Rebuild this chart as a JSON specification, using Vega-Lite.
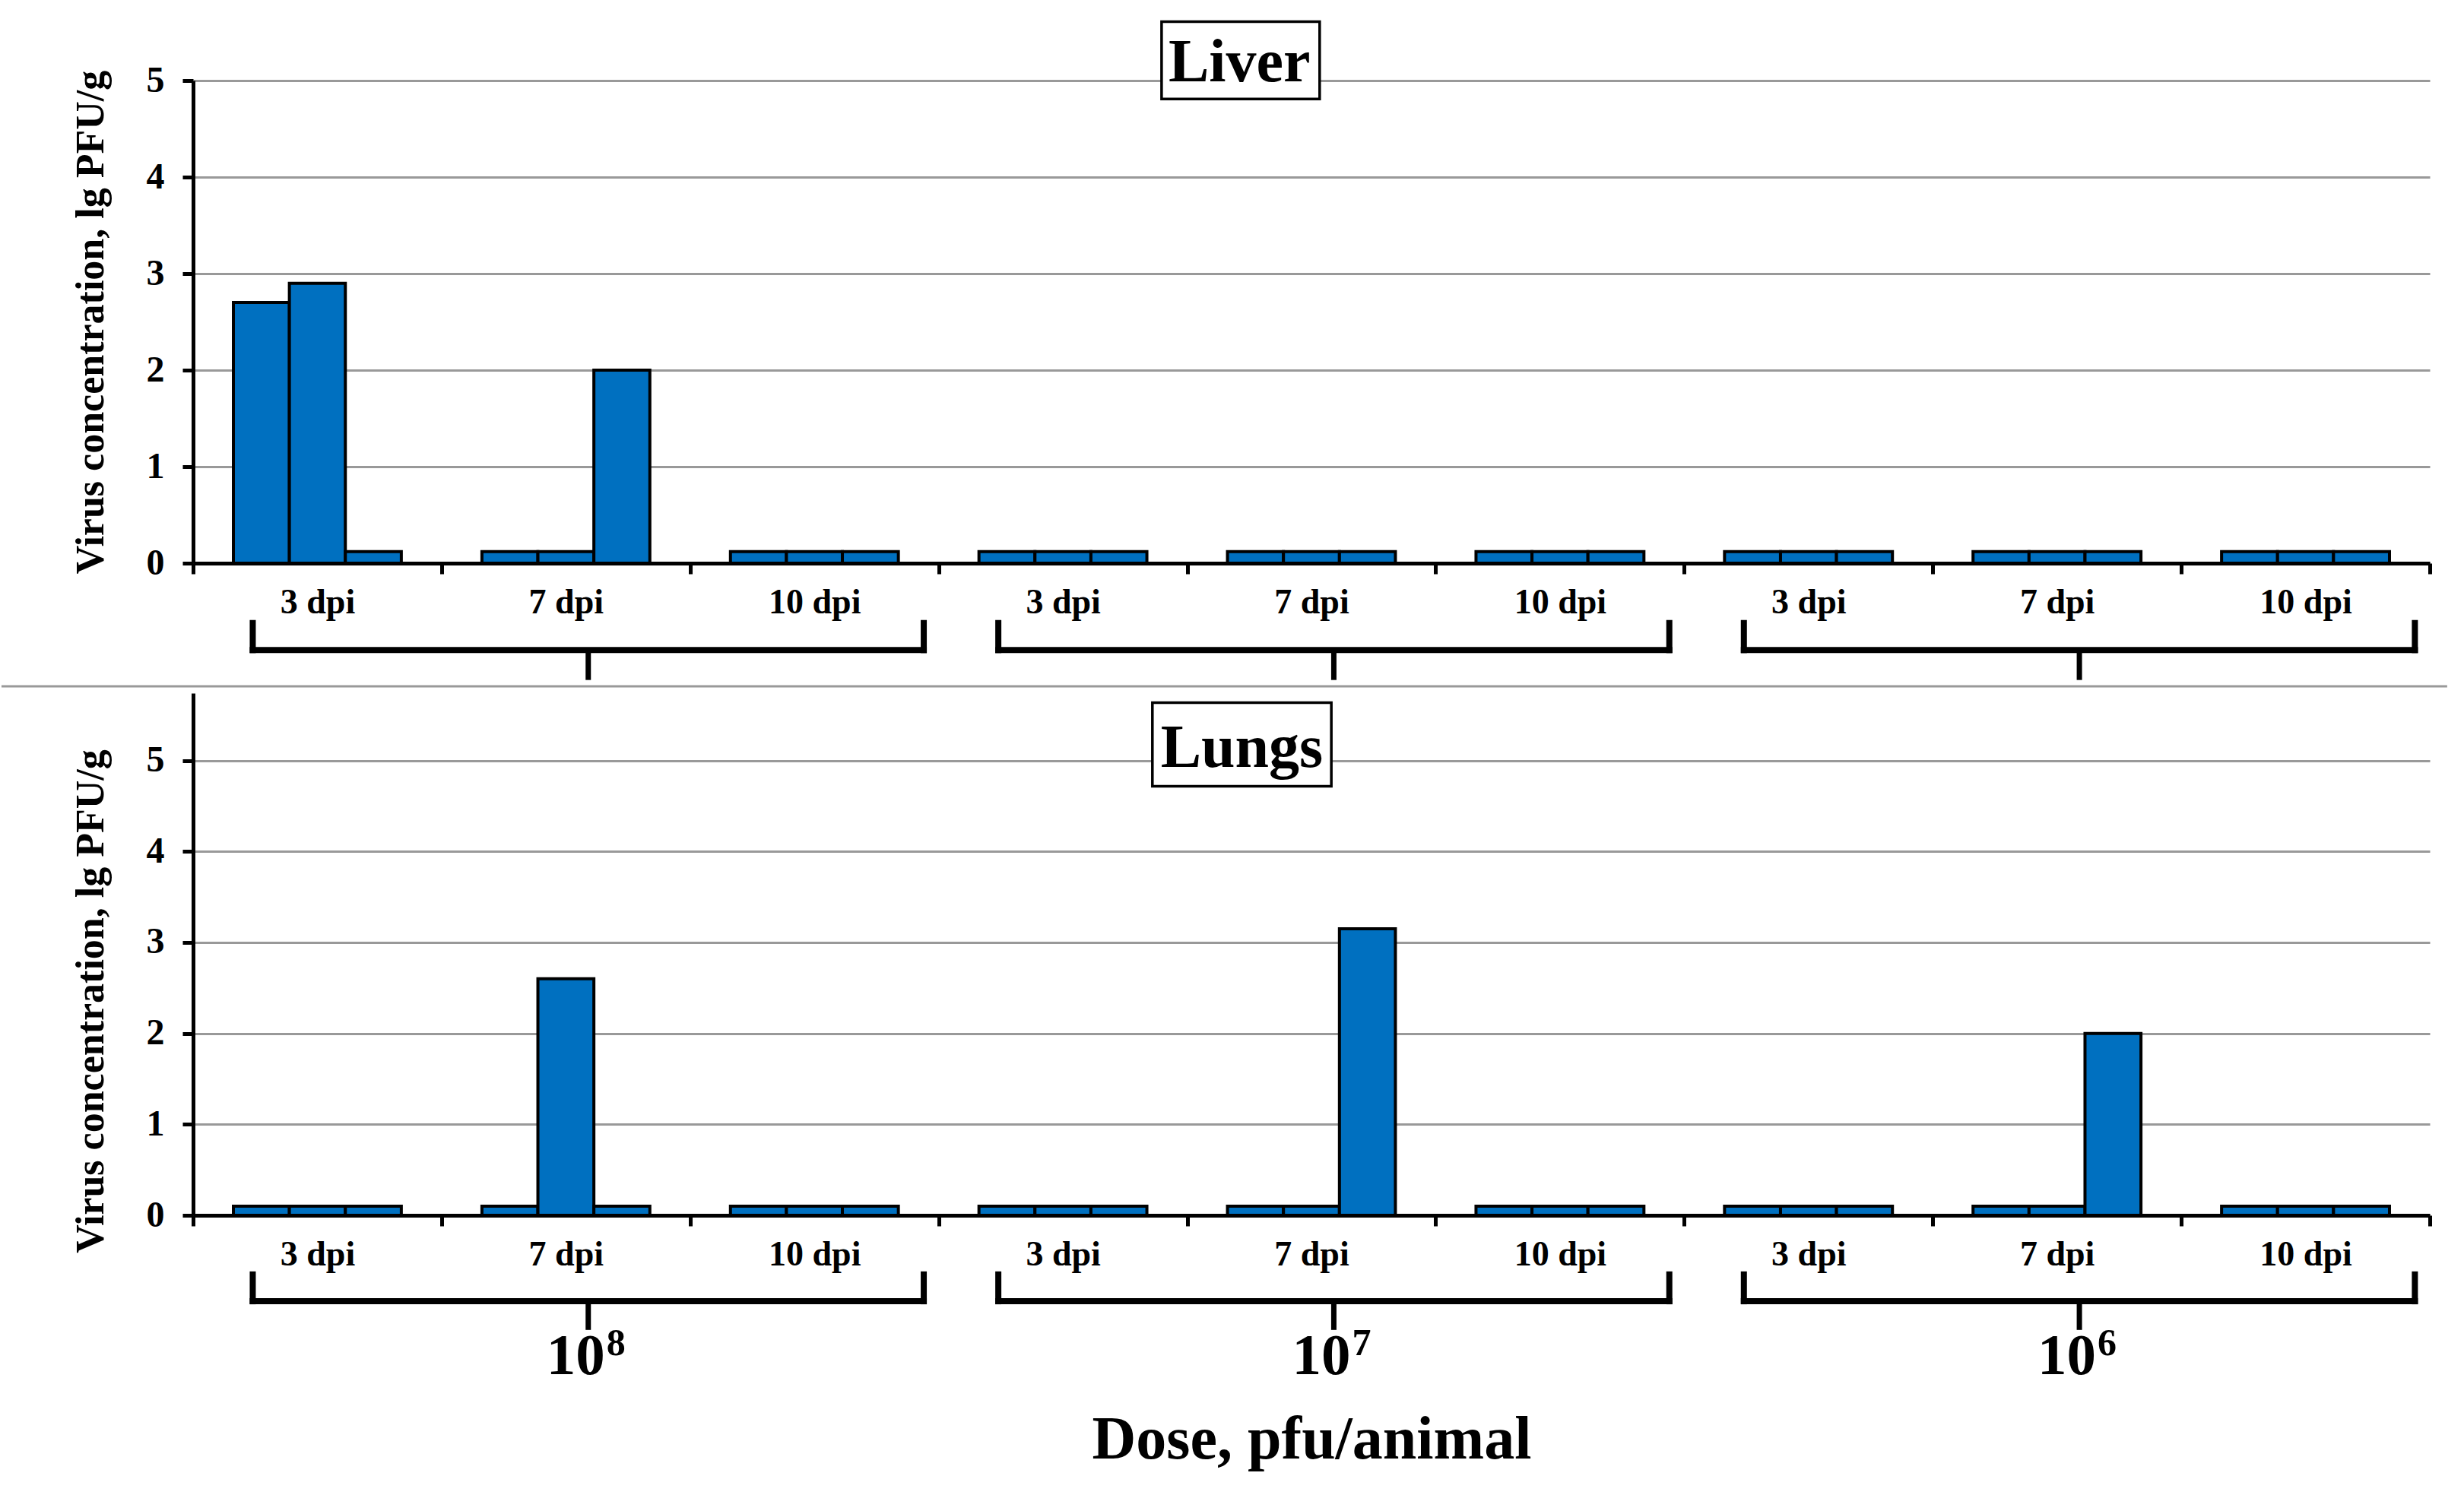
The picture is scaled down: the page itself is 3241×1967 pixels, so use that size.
{
  "$schema": "https://vega.github.io/schema/vega-lite/v6.json",
  "background": "white",
  "padding": {"left": 0, "top": 26, "right": 10, "bottom": 10},
  "config": {"font": "Liberation Serif", "view": {"stroke": null}},
  "bounds": "flush",
  "spacing": 171,
  "datasets": {
    "bars": [
      {"organ": "Liver", "dose": "10⁸", "dpi": "3 dpi", "grp": "10⁸|3 dpi", "rep": "1", "value": 2.7},
      {"organ": "Liver", "dose": "10⁸", "dpi": "3 dpi", "grp": "10⁸|3 dpi", "rep": "2", "value": 2.9},
      {"organ": "Liver", "dose": "10⁸", "dpi": "3 dpi", "grp": "10⁸|3 dpi", "rep": "3", "value": 0.12},
      {"organ": "Liver", "dose": "10⁸", "dpi": "7 dpi", "grp": "10⁸|7 dpi", "rep": "1", "value": 0.12},
      {"organ": "Liver", "dose": "10⁸", "dpi": "7 dpi", "grp": "10⁸|7 dpi", "rep": "2", "value": 0.12},
      {"organ": "Liver", "dose": "10⁸", "dpi": "7 dpi", "grp": "10⁸|7 dpi", "rep": "3", "value": 2.0},
      {"organ": "Liver", "dose": "10⁸", "dpi": "10 dpi", "grp": "10⁸|10 dpi", "rep": "1", "value": 0.12},
      {"organ": "Liver", "dose": "10⁸", "dpi": "10 dpi", "grp": "10⁸|10 dpi", "rep": "2", "value": 0.12},
      {"organ": "Liver", "dose": "10⁸", "dpi": "10 dpi", "grp": "10⁸|10 dpi", "rep": "3", "value": 0.12},
      {"organ": "Liver", "dose": "10⁷", "dpi": "3 dpi", "grp": "10⁷|3 dpi", "rep": "1", "value": 0.12},
      {"organ": "Liver", "dose": "10⁷", "dpi": "3 dpi", "grp": "10⁷|3 dpi", "rep": "2", "value": 0.12},
      {"organ": "Liver", "dose": "10⁷", "dpi": "3 dpi", "grp": "10⁷|3 dpi", "rep": "3", "value": 0.12},
      {"organ": "Liver", "dose": "10⁷", "dpi": "7 dpi", "grp": "10⁷|7 dpi", "rep": "1", "value": 0.12},
      {"organ": "Liver", "dose": "10⁷", "dpi": "7 dpi", "grp": "10⁷|7 dpi", "rep": "2", "value": 0.12},
      {"organ": "Liver", "dose": "10⁷", "dpi": "7 dpi", "grp": "10⁷|7 dpi", "rep": "3", "value": 0.12},
      {"organ": "Liver", "dose": "10⁷", "dpi": "10 dpi", "grp": "10⁷|10 dpi", "rep": "1", "value": 0.12},
      {"organ": "Liver", "dose": "10⁷", "dpi": "10 dpi", "grp": "10⁷|10 dpi", "rep": "2", "value": 0.12},
      {"organ": "Liver", "dose": "10⁷", "dpi": "10 dpi", "grp": "10⁷|10 dpi", "rep": "3", "value": 0.12},
      {"organ": "Liver", "dose": "10⁶", "dpi": "3 dpi", "grp": "10⁶|3 dpi", "rep": "1", "value": 0.12},
      {"organ": "Liver", "dose": "10⁶", "dpi": "3 dpi", "grp": "10⁶|3 dpi", "rep": "2", "value": 0.12},
      {"organ": "Liver", "dose": "10⁶", "dpi": "3 dpi", "grp": "10⁶|3 dpi", "rep": "3", "value": 0.12},
      {"organ": "Liver", "dose": "10⁶", "dpi": "7 dpi", "grp": "10⁶|7 dpi", "rep": "1", "value": 0.12},
      {"organ": "Liver", "dose": "10⁶", "dpi": "7 dpi", "grp": "10⁶|7 dpi", "rep": "2", "value": 0.12},
      {"organ": "Liver", "dose": "10⁶", "dpi": "7 dpi", "grp": "10⁶|7 dpi", "rep": "3", "value": 0.12},
      {"organ": "Liver", "dose": "10⁶", "dpi": "10 dpi", "grp": "10⁶|10 dpi", "rep": "1", "value": 0.12},
      {"organ": "Liver", "dose": "10⁶", "dpi": "10 dpi", "grp": "10⁶|10 dpi", "rep": "2", "value": 0.12},
      {"organ": "Liver", "dose": "10⁶", "dpi": "10 dpi", "grp": "10⁶|10 dpi", "rep": "3", "value": 0.12},
      {"organ": "Lungs", "dose": "10⁸", "dpi": "3 dpi", "grp": "10⁸|3 dpi", "rep": "1", "value": 0.1},
      {"organ": "Lungs", "dose": "10⁸", "dpi": "3 dpi", "grp": "10⁸|3 dpi", "rep": "2", "value": 0.1},
      {"organ": "Lungs", "dose": "10⁸", "dpi": "3 dpi", "grp": "10⁸|3 dpi", "rep": "3", "value": 0.1},
      {"organ": "Lungs", "dose": "10⁸", "dpi": "7 dpi", "grp": "10⁸|7 dpi", "rep": "1", "value": 0.1},
      {"organ": "Lungs", "dose": "10⁸", "dpi": "7 dpi", "grp": "10⁸|7 dpi", "rep": "2", "value": 2.6},
      {"organ": "Lungs", "dose": "10⁸", "dpi": "7 dpi", "grp": "10⁸|7 dpi", "rep": "3", "value": 0.1},
      {"organ": "Lungs", "dose": "10⁸", "dpi": "10 dpi", "grp": "10⁸|10 dpi", "rep": "1", "value": 0.1},
      {"organ": "Lungs", "dose": "10⁸", "dpi": "10 dpi", "grp": "10⁸|10 dpi", "rep": "2", "value": 0.1},
      {"organ": "Lungs", "dose": "10⁸", "dpi": "10 dpi", "grp": "10⁸|10 dpi", "rep": "3", "value": 0.1},
      {"organ": "Lungs", "dose": "10⁷", "dpi": "3 dpi", "grp": "10⁷|3 dpi", "rep": "1", "value": 0.1},
      {"organ": "Lungs", "dose": "10⁷", "dpi": "3 dpi", "grp": "10⁷|3 dpi", "rep": "2", "value": 0.1},
      {"organ": "Lungs", "dose": "10⁷", "dpi": "3 dpi", "grp": "10⁷|3 dpi", "rep": "3", "value": 0.1},
      {"organ": "Lungs", "dose": "10⁷", "dpi": "7 dpi", "grp": "10⁷|7 dpi", "rep": "1", "value": 0.1},
      {"organ": "Lungs", "dose": "10⁷", "dpi": "7 dpi", "grp": "10⁷|7 dpi", "rep": "2", "value": 0.1},
      {"organ": "Lungs", "dose": "10⁷", "dpi": "7 dpi", "grp": "10⁷|7 dpi", "rep": "3", "value": 3.15},
      {"organ": "Lungs", "dose": "10⁷", "dpi": "10 dpi", "grp": "10⁷|10 dpi", "rep": "1", "value": 0.1},
      {"organ": "Lungs", "dose": "10⁷", "dpi": "10 dpi", "grp": "10⁷|10 dpi", "rep": "2", "value": 0.1},
      {"organ": "Lungs", "dose": "10⁷", "dpi": "10 dpi", "grp": "10⁷|10 dpi", "rep": "3", "value": 0.1},
      {"organ": "Lungs", "dose": "10⁶", "dpi": "3 dpi", "grp": "10⁶|3 dpi", "rep": "1", "value": 0.1},
      {"organ": "Lungs", "dose": "10⁶", "dpi": "3 dpi", "grp": "10⁶|3 dpi", "rep": "2", "value": 0.1},
      {"organ": "Lungs", "dose": "10⁶", "dpi": "3 dpi", "grp": "10⁶|3 dpi", "rep": "3", "value": 0.1},
      {"organ": "Lungs", "dose": "10⁶", "dpi": "7 dpi", "grp": "10⁶|7 dpi", "rep": "1", "value": 0.1},
      {"organ": "Lungs", "dose": "10⁶", "dpi": "7 dpi", "grp": "10⁶|7 dpi", "rep": "2", "value": 0.1},
      {"organ": "Lungs", "dose": "10⁶", "dpi": "7 dpi", "grp": "10⁶|7 dpi", "rep": "3", "value": 2.0},
      {"organ": "Lungs", "dose": "10⁶", "dpi": "10 dpi", "grp": "10⁶|10 dpi", "rep": "1", "value": 0.1},
      {"organ": "Lungs", "dose": "10⁶", "dpi": "10 dpi", "grp": "10⁶|10 dpi", "rep": "2", "value": 0.1},
      {"organ": "Lungs", "dose": "10⁶", "dpi": "10 dpi", "grp": "10⁶|10 dpi", "rep": "3", "value": 0.1}
    ],
    "braces": [
      {"dose": "10⁸", "base": "10", "exp": "8", "start": "10⁸|3 dpi", "mid": "10⁸|7 dpi", "end": "10⁸|10 dpi"},
      {"dose": "10⁷", "base": "10", "exp": "7", "start": "10⁷|3 dpi", "mid": "10⁷|7 dpi", "end": "10⁷|10 dpi"},
      {"dose": "10⁶", "base": "10", "exp": "6", "start": "10⁶|3 dpi", "mid": "10⁶|7 dpi", "end": "10⁶|10 dpi"}
    ],
    "titles": [
      {"organ": "Liver"},
      {"organ": "Lungs"}
    ]
  },
  "vconcat": [
    {
      "width": 2942,
      "height": 635,
      "layer": [
        {
          "data": {"name": "bars"},
          "transform": [{"filter": "datum.organ === 'Liver'"}],
          "mark": {"type": "bar", "fill": "#0070C0", "stroke": "black", "strokeWidth": 4},
          "encoding": {
            "x": {
              "field": "grp", "type": "nominal",
              "scale": {"domain": ["10⁸|3 dpi", "10⁸|7 dpi", "10⁸|10 dpi", "10⁷|3 dpi", "10⁷|7 dpi", "10⁷|10 dpi", "10⁶|3 dpi", "10⁶|7 dpi", "10⁶|10 dpi"], "paddingInner": 0, "paddingOuter": 0},
              "axis": {"title": null, "labelExpr": "split(datum.label, '|')[1]", "tickBand": "extent", "labelAngle": 0, "labelFontSize": 46, "labelFontWeight": "bold", "labelColor": "black", "labelPadding": 15, "tickSize": 14, "tickWidth": 5, "tickColor": "black", "domainColor": "black", "domainWidth": 5, "grid": false}
            },
            "xOffset": {"field": "rep", "type": "nominal", "scale": {"paddingInner": 0, "paddingOuter": 0.72}},
            "y": {
              "field": "value", "type": "quantitative",
              "scale": {"domain": [0, 5], "nice": false},
              "axis": {"title": "Virus concentration, lg PFU/g", "format": "d", "values": [0, 1, 2, 3, 4, 5], "grid": true, "gridColor": "#999999", "gridWidth": 3, "domainColor": "black", "domainWidth": 5, "tickColor": "black", "tickWidth": 5, "tickSize": 14, "labelFontSize": 48, "labelFontWeight": "bold", "labelColor": "black", "labelPadding": 24, "titleFontSize": 52, "titleFontWeight": "bold", "titleColor": "black", "titlePadding": 46}
            }
          }
        },
        {
          "data": {"name": "titles"},
          "transform": [{"filter": "datum.organ === 'Liver'"}],
          "mark": {"type": "rule", "stroke": "#999999", "strokeWidth": 3},
          "encoding": {
            "x": {"datum": "10⁸|3 dpi", "bandPosition": -0.771},
            "x2": {"datum": "10⁶|10 dpi", "bandPosition": 1.07},
            "y": {"datum": -1.276}
          }
        },
        {
          "data": {"name": "braces"},
          "mark": {"type": "rule", "stroke": "black", "strokeWidth": 8, "strokeCap": "square"},
          "encoding": {
            "x": {"field": "start", "type": "nominal", "bandPosition": 0.24},
            "x2": {"field": "end", "bandPosition": 0.94},
            "y": {"datum": -0.9}
          }
        },
        {
          "data": {"name": "braces"},
          "mark": {"type": "rule", "stroke": "black", "strokeWidth": 8, "strokeCap": "square"},
          "encoding": {
            "x": {"field": "start", "type": "nominal", "bandPosition": 0.24},
            "y": {"datum": -0.9},
            "y2": {"datum": -0.62}
          }
        },
        {
          "data": {"name": "braces"},
          "mark": {"type": "rule", "stroke": "black", "strokeWidth": 8, "strokeCap": "square"},
          "encoding": {
            "x": {"field": "end", "type": "nominal", "bandPosition": 0.94},
            "y": {"datum": -0.9},
            "y2": {"datum": -0.62}
          }
        },
        {
          "data": {"name": "braces"},
          "mark": {"type": "rule", "stroke": "black", "strokeWidth": 7},
          "encoding": {
            "x": {"field": "mid", "type": "nominal", "bandPosition": 0.59},
            "y": {"datum": -0.9},
            "y2": {"datum": -1.21}
          }
        },
        {
          "data": {"name": "titles"},
          "transform": [{"filter": "datum.organ === 'Liver'"}],
          "mark": {"type": "rect", "fill": "white", "stroke": "black", "strokeWidth": 3.5},
          "encoding": {
            "x": {"datum": "10⁷|3 dpi", "bandPosition": 0.897},
            "x2": {"datum": "10⁷|7 dpi", "bandPosition": 0.533},
            "y": {"datum": 5.61},
            "y2": {"datum": 4.81}
          }
        },
        {
          "data": {"name": "titles"},
          "transform": [{"filter": "datum.organ === 'Liver'"}],
          "mark": {"type": "text", "fontSize": 80, "fontWeight": "bold", "color": "black", "baseline": "alphabetic", "align": "center"},
          "encoding": {
            "x": {"datum": "10⁷|7 dpi", "bandPosition": 0.21},
            "y": {"datum": 4.99},
            "text": {"field": "organ"}
          }
        }
      ]
    },
    {
      "width": 2942,
      "height": 687,
      "layer": [
        {
          "data": {"name": "bars"},
          "transform": [{"filter": "datum.organ === 'Lungs'"}],
          "mark": {"type": "bar", "fill": "#0070C0", "stroke": "black", "strokeWidth": 4},
          "encoding": {
            "x": {
              "field": "grp", "type": "nominal",
              "scale": {"domain": ["10⁸|3 dpi", "10⁸|7 dpi", "10⁸|10 dpi", "10⁷|3 dpi", "10⁷|7 dpi", "10⁷|10 dpi", "10⁶|3 dpi", "10⁶|7 dpi", "10⁶|10 dpi"], "paddingInner": 0, "paddingOuter": 0},
              "axis": {"title": "Dose, pfu/animal", "titleFontSize": 80, "titleFontWeight": "bold", "titleColor": "black", "titlePadding": 182, "labelExpr": "split(datum.label, '|')[1]", "tickBand": "extent", "labelAngle": 0, "labelFontSize": 46, "labelFontWeight": "bold", "labelColor": "black", "labelPadding": 15, "tickSize": 14, "tickWidth": 5, "tickColor": "black", "domainColor": "black", "domainWidth": 5, "grid": false}
            },
            "xOffset": {"field": "rep", "type": "nominal", "scale": {"paddingInner": 0, "paddingOuter": 0.72}},
            "y": {
              "field": "value", "type": "quantitative",
              "scale": {"domain": [0, 5.74], "nice": false},
              "axis": {"title": "Virus concentration, lg PFU/g", "format": "d", "titleY": 405, "values": [0, 1, 2, 3, 4, 5], "grid": true, "gridColor": "#999999", "gridWidth": 3, "domainColor": "black", "domainWidth": 5, "tickColor": "black", "tickWidth": 5, "tickSize": 14, "labelFontSize": 48, "labelFontWeight": "bold", "labelColor": "black", "labelPadding": 24, "titleFontSize": 52, "titleFontWeight": "bold", "titleColor": "black", "titlePadding": 46}
            }
          }
        },
        {
          "data": {"name": "braces"},
          "mark": {"type": "rule", "stroke": "black", "strokeWidth": 8, "strokeCap": "square"},
          "encoding": {
            "x": {"field": "start", "type": "nominal", "bandPosition": 0.24},
            "x2": {"field": "end", "bandPosition": 0.94},
            "y": {"datum": -0.945}
          }
        },
        {
          "data": {"name": "braces"},
          "mark": {"type": "rule", "stroke": "black", "strokeWidth": 8, "strokeCap": "square"},
          "encoding": {
            "x": {"field": "start", "type": "nominal", "bandPosition": 0.24},
            "y": {"datum": -0.945},
            "y2": {"datum": -0.65}
          }
        },
        {
          "data": {"name": "braces"},
          "mark": {"type": "rule", "stroke": "black", "strokeWidth": 8, "strokeCap": "square"},
          "encoding": {
            "x": {"field": "end", "type": "nominal", "bandPosition": 0.94},
            "y": {"datum": -0.945},
            "y2": {"datum": -0.65}
          }
        },
        {
          "data": {"name": "braces"},
          "mark": {"type": "rule", "stroke": "black", "strokeWidth": 7},
          "encoding": {
            "x": {"field": "mid", "type": "nominal", "bandPosition": 0.59},
            "y": {"datum": -0.945},
            "y2": {"datum": -1.26}
          }
        },
        {
          "data": {"name": "braces"},
          "mark": {"type": "text", "fontSize": 77, "fontWeight": "bold", "color": "black", "baseline": "alphabetic", "align": "right", "dx": 22},
          "encoding": {
            "x": {"field": "mid", "type": "nominal", "bandPosition": 0.59},
            "y": {"datum": -1.75},
            "text": {"field": "base"}
          }
        },
        {
          "data": {"name": "braces"},
          "mark": {"type": "text", "fontSize": 50, "fontWeight": "bold", "color": "black", "baseline": "alphabetic", "align": "left", "dx": 24, "dy": -25},
          "encoding": {
            "x": {"field": "mid", "type": "nominal", "bandPosition": 0.59},
            "y": {"datum": -1.75},
            "text": {"field": "exp"}
          }
        },
        {
          "data": {"name": "titles"},
          "transform": [{"filter": "datum.organ === 'Lungs'"}],
          "mark": {"type": "rect", "fill": "white", "stroke": "black", "strokeWidth": 3.5},
          "encoding": {
            "x": {"datum": "10⁷|3 dpi", "bandPosition": 0.86},
            "x2": {"datum": "10⁷|7 dpi", "bandPosition": 0.58},
            "y": {"datum": 5.635},
            "y2": {"datum": 4.716}
          }
        },
        {
          "data": {"name": "titles"},
          "transform": [{"filter": "datum.organ === 'Lungs'"}],
          "mark": {"type": "text", "fontSize": 80, "fontWeight": "bold", "color": "black", "baseline": "alphabetic", "align": "center"},
          "encoding": {
            "x": {"datum": "10⁷|7 dpi", "bandPosition": 0.22},
            "y": {"datum": 4.93},
            "text": {"field": "organ"}
          }
        }
      ]
    }
  ]
}
